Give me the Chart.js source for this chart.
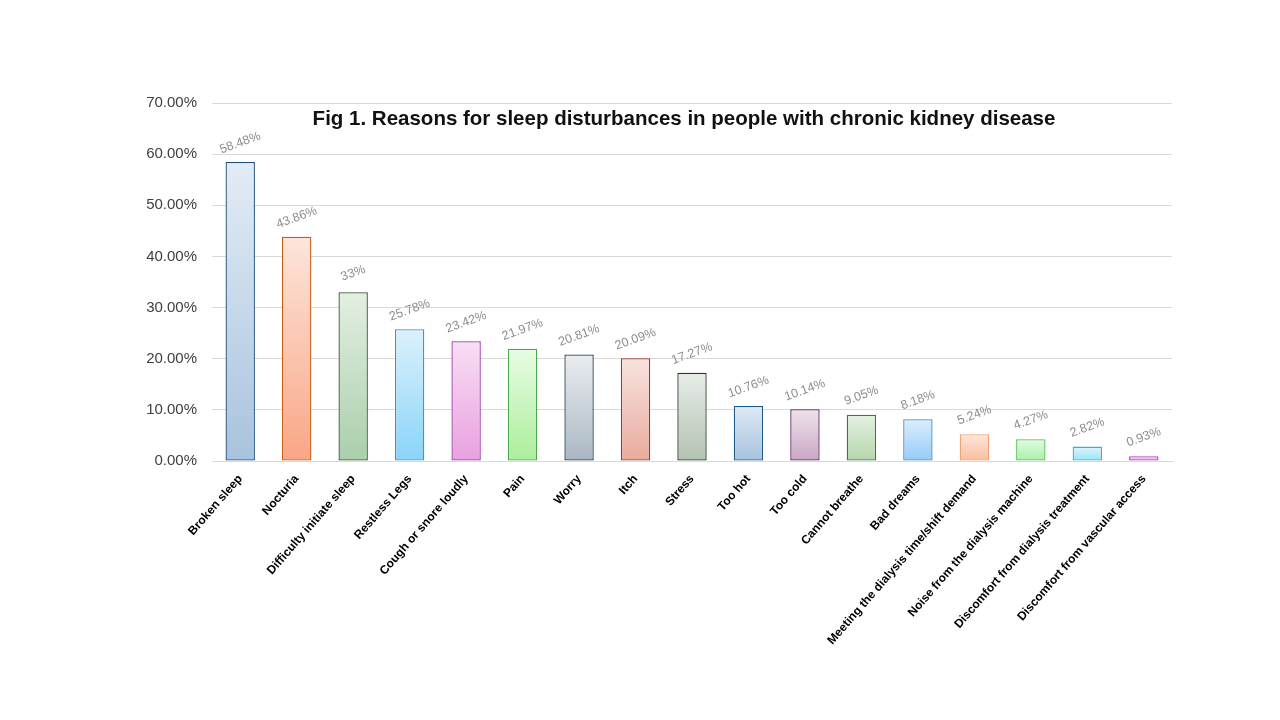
<!DOCTYPE html>
<html>
<head>
    <title>Sleep disturbances in CKD</title>
    <meta charset="utf-8">
    <script src="https://cdn.jsdelivr.net/npm/chart.js@4/dist/chart.umd.min.js"></script>
    <style>
      html, body { margin: 0; padding: 0; background: #fff; }
      .chart-container { position: relative; width: 1280px; height: 720px; }
    </style>
</head>
<body>
    <div class="chart-container">
        <canvas id="chart"></canvas>
    </div>

    <script>
        // data
        const reasons = [
            'Broken sleep', 'Nocturia', 'Difficulty initiate sleep', 'Restless Legs',
            'Cough or snore loudly', 'Pain', 'Worry', 'Itch', 'Stress', 'Too hot',
            'Too cold', 'Cannot breathe', 'Bad dreams',
            'Meeting the dialysis time/shift demand', 'Noise from the dialysis machine',
            'Discomfort from dialysis treatment', 'Discomfort from vascular access'
        ];
        const percents = [58.48, 43.86, 33, 25.78, 23.42, 21.97, 20.81, 20.09, 17.27,
                          10.76, 10.14, 9.05, 8.18, 5.24, 4.27, 2.82, 0.93];
        const yTicks = [0, 10, 20, 30, 40, 50, 60, 70];
        const titleText = 'Fig 1. Reasons for sleep disturbances in people with chronic kidney disease';

        // bar colours (gradient top, gradient bottom, outline)
        const topColors = ['#e3ecf6', '#fde5db', '#e4efe2', '#dcf1fc', '#f9def5', '#e8fce4', '#eaedf0',
                           '#f8e3df', '#e8ece8', '#dfe9f4', '#efe3ec', '#e4f0e2', '#dbeefc', '#fde7dc',
                           '#e2fce2', '#def6fd', '#f9def9'];
        const bottomColors = ['#a8c3de', '#f9a685', '#a9cfab', '#89d4f8', '#e8a0e0', '#abee9c', '#a9b7c3',
                              '#e9aa9d', '#b2c2b2', '#a6c2de', '#c9a6c3', '#b4d6ac', '#96cbf8', '#fbbd9c',
                              '#a6f0a6', '#96e3f8', '#eb9eeb'];
        const borderColors = ['#1f4e79', '#c55a11', '#2f5a26', '#2e9cc9', '#9933a0', '#4ca84c', '#1f3a4e',
                              '#a0381a', '#1f3a1f', '#1f5a8a', '#5a1f5a', '#3a7a3a', '#3a8ac8', '#f0a070',
                              '#4cc04c', '#3ab0d0', '#b040c0'];

        function fmtPct(v) {
            return Number.isInteger(v) ? v + '%' : v.toFixed(2) + '%';
        }

        function barGradient(context) {
            const chart = context.chart;
            const i = context.dataIndex;
            if (!chart.chartArea) return bottomColors[i];
            const y = chart.scales.y;
            const g = chart.ctx.createLinearGradient(0, y.getPixelForValue(percents[i]), 0, y.getPixelForValue(0));
            g.addColorStop(0, topColors[i]);
            g.addColorStop(1, bottomColors[i]);
            return g;
        }

        // rotated grey value labels above each bar
        const valueLabels = {
            id: 'valueLabels',
            afterDatasetsDraw(chart) {
                const ctx = chart.ctx;
                const meta = chart.getDatasetMeta(0);
                ctx.save();
                ctx.font = '12.5px "Liberation Sans", Arial, sans-serif';
                ctx.fillStyle = '#8c8c8c';
                ctx.textAlign = 'center';
                ctx.textBaseline = 'middle';
                meta.data.forEach((bar, i) => {
                    ctx.save();
                    ctx.translate(bar.x, bar.y - 19);
                    ctx.rotate(-20 * Math.PI / 180);
                    ctx.fillText(fmtPct(percents[i]), 0, 0);
                    ctx.restore();
                });
                ctx.restore();
            }
        };

        // title sits inside the plot area
        const innerTitle = {
            id: 'innerTitle',
            afterDraw(chart) {
                const ctx = chart.ctx;
                const a = chart.chartArea;
                ctx.save();
                ctx.font = 'bold 20.5px "Liberation Sans", Arial, sans-serif';
                ctx.fillStyle = '#111';
                ctx.textAlign = 'center';
                ctx.textBaseline = 'middle';
                ctx.fillText(titleText, (a.left + a.right) / 2 - 8, a.top + 16);
                ctx.restore();
            }
        };

        let ctx = document.getElementById('chart').getContext('2d');
        let chart = new Chart(ctx, {
            type: 'bar',
            data: {
                labels: reasons,
                datasets: [{
                    data: percents,
                    backgroundColor: barGradient,
                    borderColor: borderColors,
                    borderWidth: 1.3,
                    borderSkipped: false,
                    categoryPercentage: 1,
                    barPercentage: 0.52
                }]
            },
            plugins: [valueLabels, innerTitle],
            options: {
                responsive: true,
                maintainAspectRatio: false,
                animation: false,
                layout: { padding: { top: 103, right: 108, left: 0, bottom: 0 } },
                plugins: {
                    legend: { display: false },
                    tooltip: { enabled: false }
                },
                scales: {
                    x: {
                        grid: { display: false, drawTicks: false },
                        border: { display: true, color: '#d9d9d9' },
                        afterFit: s => { s.height = 259; },
                        ticks: {
                            maxRotation: 49,
                            minRotation: 49,
                            autoSkip: false,
                            padding: 11,
                            color: '#000',
                            font: { family: '"Liberation Sans", Arial, sans-serif', size: 12, weight: 'bold' }
                        }
                    },
                    y: {
                        min: 0,
                        max: 70,
                        afterFit: s => { s.width = 212; },
                        afterBuildTicks: s => { s.ticks = yTicks.map(v => ({ value: v })); },
                        grid: { color: '#d9d9d9', drawTicks: false },
                        border: { display: false },
                        ticks: {
                            padding: 15,
                            color: '#404040',
                            font: { family: '"Liberation Sans", Arial, sans-serif', size: 15 },
                            callback: v => v.toFixed(2) + '%'
                        }
                    }
                }
            }
        });
    </script>
</body>
</html>
